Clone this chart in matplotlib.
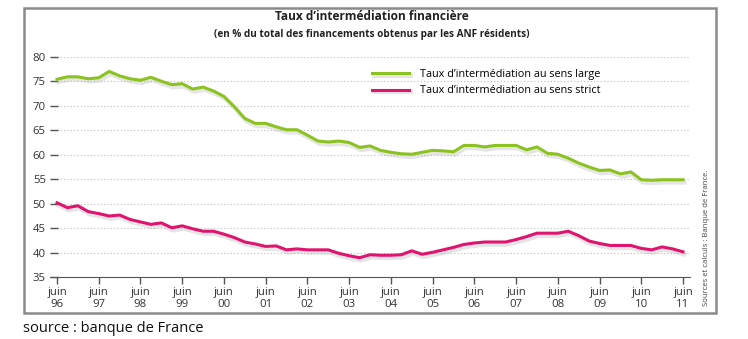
import numpy as np
import matplotlib
matplotlib.use("Agg")
import matplotlib.pyplot as plt
from matplotlib.patches import Rectangle
import matplotlib.patheffects as pe

plt.rcParams['font.family'] = ['Open Sans', 'DejaVu Sans']

# quarterly values, juin 96 -> juin 11
large = [75.4, 75.9, 75.9, 75.5, 75.7, 77.0, 76.1, 75.5, 75.2, 75.8, 75.0, 74.3,
         74.5, 73.4, 73.8, 73.0, 71.9, 69.8, 67.4, 66.4, 66.4, 65.7, 65.1, 65.1,
         64.0, 62.8, 62.6, 62.8, 62.5, 61.5, 61.8, 60.9,
         60.5, 60.2, 60.1, 60.5, 60.9, 60.8, 60.6, 61.9, 61.9, 61.6, 61.9, 61.9,
         61.9, 61.0, 61.6, 60.3, 60.1, 59.3, 58.3, 57.5, 56.8, 56.9, 56.1, 56.5,
         54.9, 54.8, 54.9, 54.9, 54.9]
strict = [50.2, 49.2, 49.6, 48.4, 48.0, 47.5, 47.7, 46.8, 46.3, 45.8, 46.1, 45.1,
          45.5, 44.9, 44.4, 44.4, 43.8, 43.1, 42.2, 41.8, 41.3, 41.4, 40.6, 40.8,
          40.6, 40.6, 40.6, 39.9, 39.4, 39.0, 39.6, 39.5,
          39.5, 39.6, 40.4, 39.7, 40.1, 40.6, 41.1, 41.7, 42.0, 42.2, 42.2, 42.2,
          42.7, 43.3, 44.0, 44.0, 44.0, 44.4, 43.5, 42.4, 41.9, 41.5, 41.5, 41.5,
          40.9, 40.6, 41.2, 40.8, 40.2]
years = ['96', '97', '98', '99', '00', '01', '02', '03', '04', '05', '06', '07',
         '08', '09', '10', '11']

x = 1996.5 + np.arange(len(large)) * 0.25
W, H = 748, 339

fig = plt.figure(figsize=(W / 100, H / 100), dpi=100)
fig.patches.append(Rectangle((24 / W, 1 - 313 / H), (716 - 24) / W, (313 - 8) / H,
                             transform=fig.transFigure, fill=False,
                             edgecolor='#8a8a8a', linewidth=1.8))

ax = fig.add_axes([50 / W, 1 - 277.3 / H, (690 - 50) / W, (277.3 - 56.7) / H])
ax.set_xlim(1996.5 - 7 / 41.73, 2011.5 + 7 / 41.73)
ax.set_ylim(35, 80)

shadow = [pe.SimpleLineShadow(offset=(1, -2), shadow_color='#aaaaaa', alpha=0.3, linewidth=3), pe.Normal()]
ax.plot(x, large, color='#8cc21f', lw=2.2, path_effects=shadow,
        label='Taux d\u2019intermédiation au sens large', zorder=3)
ax.plot(x, strict, color='#e0146e', lw=2.2, path_effects=shadow,
        label='Taux d\u2019intermédiation au sens strict', zorder=3)

for v in range(40, 81, 5):
    ax.axhline(v, xmin=7 / 640, xmax=643 / 640, color='#bbbbbb', lw=0.8,
               linestyle=(0, (1, 2)), zorder=1)
ax.set_yticks(range(35, 81, 5))
ax.set_xticks(1996.5 + np.arange(len(years)))
ax.set_xticklabels(['juin\n' + y for y in years], fontsize=8.2, color='#333333',
                   linespacing=1.1)
ax.tick_params(axis='y', direction='in', length=6, width=1, color='#555555',
               labelsize=8.2, labelcolor='#333333', pad=3)
ax.tick_params(axis='x', direction='out', length=5, width=1, color='#555555', pad=2)
for s in ['top', 'right', 'left']:
    ax.spines[s].set_visible(False)
ax.spines['bottom'].set_color('#555555')

ax.legend(loc='upper left', bbox_to_anchor=(318 / 640, 1 - 8 / 220.6), frameon=False,
          fontsize=7.8, handlelength=3.4, handletextpad=1.0, labelspacing=0.5,
          borderaxespad=0)

fig.text(372 / W, 1 - 17 / H, 'Taux d\u2019intermédiation financière', ha='center',
         va='center', fontsize=8.6, fontweight='bold', color='#222222')
fig.text(372 / W, 1 - 34 / H, '(en % du total des financements obtenus par les ANF résidents)',
         ha='center', va='center', fontsize=7.2, fontweight='bold', color='#222222')
fig.text(707 / W, 1 - 238 / H, 'Sources et calculs : Banque de France.', rotation=90,
         ha='center', va='center', fontsize=5.6, color='#444444')
fig.text(23 / W, 1 - 328 / H, 'source : banque de France', ha='left', va='center',
         fontsize=10.5, color='#111111')

fig.savefig('out.png', dpi=100)
